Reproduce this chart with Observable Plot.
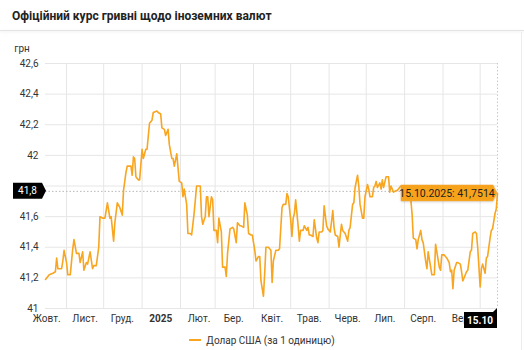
<!DOCTYPE html>
<html>
<head>
<meta charset="utf-8">
<script src="https://cdn.jsdelivr.net/npm/d3@7"></script>
<script src="https://cdn.jsdelivr.net/npm/@observablehq/plot@0.6"></script>
<style>
  html, body { margin: 0; padding: 0; background: #fff; }
  body { width: 524px; height: 350px; overflow: hidden; position: relative; font-family: Roboto, "Noto Sans", sans-serif; }
  #title { position: absolute; left: 12px; top: 9px; font-size: 12px; font-weight: 700; color: #222; white-space: nowrap; }
  #sep { position: absolute; left: 0; top: 30px; width: 524px; height: 1px; background: #e4e4e4; box-shadow: 0 1px 3px rgba(0,0,0,0.10); }
  #edge { position: absolute; left: 521px; top: 32px; width: 1px; height: 318px; background: #ececec; }
  #chart { position: absolute; left: 0; top: 33px; }
  #legend { position: absolute; left: 0; top: 334px; width: 524px; text-align: center; font-size: 10px; color: #333; line-height: 14px; white-space: nowrap; }
  #legend .sw { display: inline-block; width: 12px; height: 2px; background: #f8a51f; vertical-align: middle; margin-right: 5px; position: relative; top: -1px; }
</style>
</head>
<body>
<div id="title">Офіційний курс гривні щодо іноземних валют</div>
<div id="sep"></div>
<div id="edge"></div>
<div id="chart"></div>
<div id="legend"><span class="sw"></span>Долар США (за 1 одиницю)</div>
<script>
// ---- data ----
const startDate = "2024-10-15";
const endDate = "2025-10-15";
const dayOffsets = [0,3,6,8,9,10,13,14,15,17,18,20,22,23,25,27,28,30,31,33,34,36,38,39,41,43,44,46,48,50,52,53,55,56,58,60,62,63,65,66,69,70,71,72,73,75,76,78,79,81,82,84,86,87,90,91,93,94,96,97,99,100,102,103,104,106,108,110,111,112,114,115,117,118,120,122,124,125,126,127,129,130,131,132,134,135,136,138,139,140,142,143,145,146,147,149,151,152,154,155,157,158,160,161,163,164,166,167,169,170,172,173,174,176,177,178,180,182,183,184,186,188,189,191,192,194,195,196,198,199,200,201,202,204,205,206,208,209,211,212,213,214,216,217,219,220,221,223,224,225,227,228,230,232,233,234,236,237,239,240,242,244,245,246,248,249,250,252,253,254,256,257,258,260,261,262,264,265,266,267,268,270,271,272,273,275,277,278,279,281,283,284,286,287,290,293,295,296,297,299,300,301,303,304,305,307,308,309,311,312,314,315,316,318,319,320,322,323,324,326,327,328,329,330,332,333,335,336,337,339,340,341,343,344,345,347,348,349,351,352,353,355,356,357,359,360,361,363,364,365];
const usdRates = [41.19,41.22,41.23,41.24,41.33,41.26,41.26,41.31,41.38,41.30,41.22,41.22,41.39,41.45,41.36,41.36,41.30,41.37,41.25,41.30,41.29,41.37,41.26,41.28,41.28,41.40,41.60,41.59,41.59,41.69,41.59,41.60,41.44,41.56,41.69,41.66,41.61,41.77,41.89,41.93,41.93,41.87,41.99,41.98,41.86,41.84,41.84,42.04,41.98,42.04,42.04,42.21,42.23,42.28,42.29,42.28,42.27,42.18,42.17,42.13,42.17,42.07,41.98,41.98,41.93,42.01,41.83,41.82,41.73,41.78,41.68,41.49,41.49,41.48,41.62,41.80,41.80,41.80,41.60,41.55,41.60,41.73,41.73,41.60,41.73,41.71,41.51,41.51,41.43,41.59,41.50,41.27,41.27,41.21,41.36,41.52,41.53,41.52,41.43,41.56,41.54,41.54,41.53,41.69,41.61,41.49,41.48,41.48,41.38,41.31,41.34,41.34,41.18,41.08,41.23,41.40,41.40,41.38,41.17,41.31,41.38,41.38,41.39,41.66,41.68,41.68,41.75,41.73,41.58,41.47,41.59,41.62,41.71,41.54,41.44,41.51,41.51,41.54,41.51,41.53,41.48,41.48,41.47,41.58,41.46,41.43,41.50,41.50,41.51,41.67,41.54,41.52,41.50,41.64,41.53,41.48,41.47,41.40,41.55,41.51,41.49,41.44,41.51,41.53,41.68,41.69,41.79,41.87,41.80,41.68,41.59,41.59,41.73,41.81,41.78,41.73,41.73,41.79,41.80,41.83,41.79,41.82,41.78,41.84,41.79,41.86,41.86,41.76,41.80,41.76,41.77,41.77,41.79,41.80,41.79,41.76,41.71,41.62,41.46,41.45,41.39,41.45,41.51,41.45,41.43,41.31,41.26,41.37,41.27,41.22,41.22,41.42,41.37,41.27,41.25,41.35,41.35,41.34,41.33,41.30,41.24,41.25,41.13,41.25,41.30,41.30,41.29,41.24,41.18,41.22,41.24,41.25,41.37,41.38,41.49,41.50,41.49,41.40,41.14,41.26,41.29,41.23,41.33,41.34,41.46,41.51,41.52,41.62,41.65,41.7514];
const yTicks = [41, 41.2, 41.4, 41.6, 41.8, 42, 42.2, 42.4, 42.6];
const monthStarts = ["2024-11-01","2024-12-01","2025-01-01","2025-02-01","2025-03-01","2025-04-01","2025-05-01","2025-06-01","2025-07-01","2025-08-01","2025-09-01","2025-10-01"];
const monthLabelDates = ["2024-10-16","2024-11-16","2024-12-16","2025-01-16","2025-02-16","2025-03-16","2025-04-16","2025-05-16","2025-06-16","2025-07-16","2025-08-16","2025-09-16"];
const monthLabels = ["Жовт.","Лист.","Груд.","2025","Лют.","Бер.","Квіт.","Трав.","Черв.","Лип.","Серп.","Вер."];
const unitLabel = "грн";
const crosshairValue = 41.765;
const crosshairYLabel = "41,8";
const crosshairXLabel = "15.10";
const tooltipText = "15.10.2025: 41,7514";

// ---- build ----
const t0 = new Date(startDate);
const data = dayOffsets.map((d, i) => ({ date: d3.utcDay.offset(t0, d), rate: usdRates[i] }));
const last = data[data.length - 1];
const labelMap = new Map(monthLabelDates.map((s, i) => [+new Date(s), monthLabels[i]]));
const fmtY = d => String(+d.toFixed(1)).replace(".", ",");
const lineColor = "#f8a51f";
// the 41,8 tick label is covered by the crosshair label box, which shows the same text
const axisYTicks = yTicks.filter(v => fmtY(v) !== crosshairYLabel);

const plot = Plot.plot({
  width: 524,
  height: 300,
  marginLeft: 45,
  marginRight: 27,
  marginTop: 30,
  marginBottom: 25,
  style: { fontFamily: "Roboto, 'Noto Sans', sans-serif", fontSize: "10px", color: "#333", background: "transparent", overflow: "visible" },
  x: { type: "utc", domain: [new Date(startDate), new Date(endDate)] },
  y: { domain: [41, 42.6] },
  marks: [
    Plot.ruleY(yTicks, { stroke: "#e6e6e6", strokeWidth: 1 }),
    Plot.ruleX(monthStarts.map(s => new Date(s)), { stroke: "#e6e6e6", strokeWidth: 1 }),
    Plot.ruleX([last.date], { stroke: "#c8c8c8", strokeDasharray: "1.5,2" }),
    Plot.ruleY([crosshairValue], { stroke: "#b8b8b8", strokeDasharray: "1.5,2", x1: new Date(startDate), x2: new Date(endDate) }),
    Plot.axisY({ ticks: axisYTicks, tickSize: 0, tickPadding: 7, tickFormat: fmtY, label: null }),
    Plot.axisX({ ticks: monthLabelDates.map(s => new Date(s)), tickSize: 0, tickPadding: 6, tickFormat: d => labelMap.get(+d), label: null }),
    Plot.lineY(data, { x: "date", y: "rate", stroke: lineColor, strokeWidth: 1.6, curve: "linear" })
  ]
});
document.getElementById("chart").appendChild(plot);

const svg = d3.select(plot);
const sx = plot.scale("x"), sy = plot.scale("y");
// bold year label
svg.selectAll("text").filter(function() { return this.textContent === "2025"; }).attr("font-weight", "bold").style("font-weight", "bold");

// unit label
svg.append("text").attr("x", 22).attr("y", sy.apply(42.6) - 15).attr("dy", "0.35em")
  .attr("font-size", 10).attr("fill", "#333").text(unitLabel);

// left crosshair label
const cy = sy.apply(crosshairValue);
const lg = svg.append("g");
lg.append("path").attr("d", `M13,${cy-8}H42L46,${cy}L42,${cy+8}H13Z`).attr("fill", "#000");
lg.append("text").attr("x", 27.5).attr("y", cy).attr("dy", "0.35em").attr("text-anchor", "middle")
  .attr("fill", "#fff").attr("font-size", 10).text(crosshairYLabel);

// bottom crosshair label
const lx = sx.apply(last.date);
const by = sy.apply(41);
const bg = svg.append("g");
bg.append("path").attr("d", `M${lx-33},${by+4}H${lx-4}L${lx},${by}V${by+20}H${lx-33}Z`).attr("fill", "#000");
bg.append("text").attr("x", lx-17).attr("y", by+12).attr("dy", "0.35em").attr("text-anchor", "middle")
  .attr("fill", "#fff").attr("font-size", 10).attr("font-weight", "bold").text(crosshairXLabel);

// tooltip
const ly = sy.apply(last.rate);
const tg = svg.append("g");
tg.append("path").attr("d", `M${lx-96},${ly-8}H${lx-4}L${lx},${ly}L${lx-4},${ly+8}H${lx-96}Z`)
  .attr("fill", "#f7a21b").attr("stroke", "#f3a83a").attr("stroke-width", 0.5)
  .style("filter", "drop-shadow(0 1px 1px rgba(0,0,0,0.15))");
tg.append("text").attr("x", lx-50).attr("y", ly).attr("dy", "0.35em").attr("text-anchor", "middle")
  .attr("fill", "#222").attr("font-size", 10.5).text(tooltipText);
</script>
</body>
</html>
